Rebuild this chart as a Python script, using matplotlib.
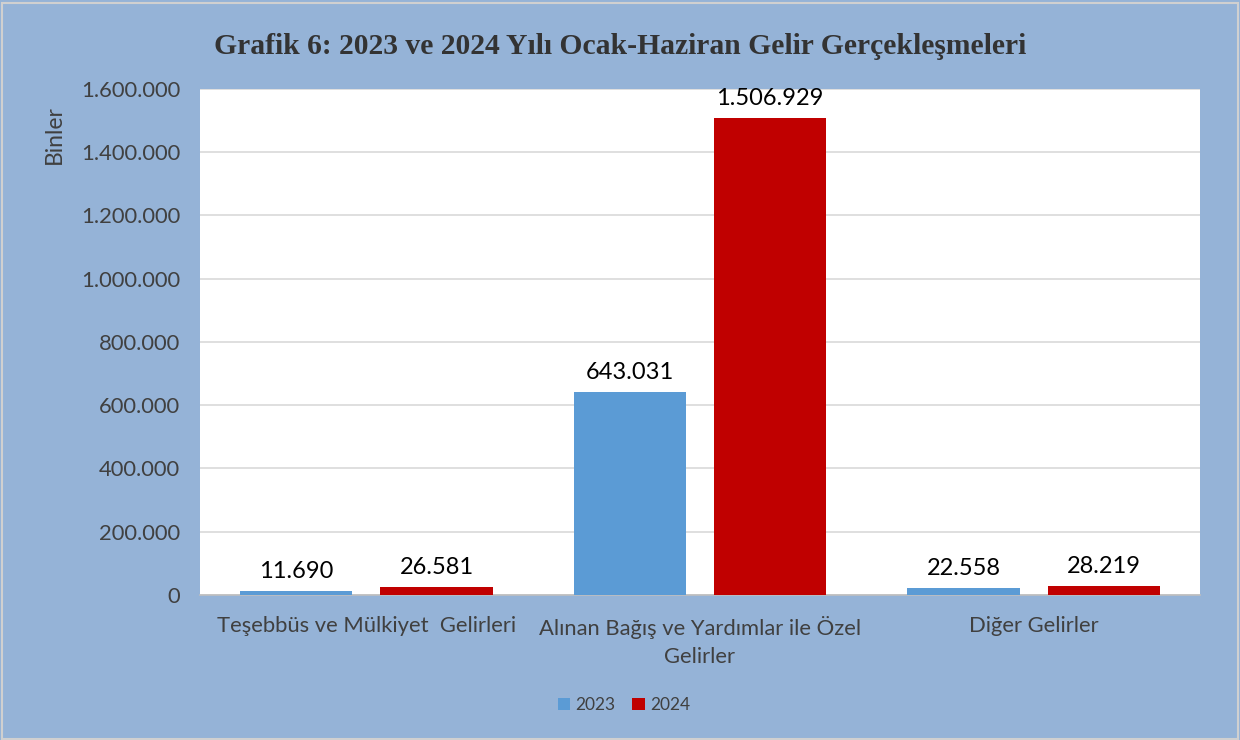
import matplotlib
matplotlib.use("Agg")
import matplotlib.pyplot as plt
from matplotlib.ticker import FuncFormatter, MultipleLocator
import numpy as np

categories = ["Teşebbüs ve Mülkiyet  Gelirleri",
              "Alınan Bağış ve Yardımlar ile Özel\nGelirler",
              "Diğer Gelirler"]
series_names = ["2023", "2024"]
values_2023 = [11690, 643031, 22558]
values_2024 = [26581, 1506929, 28219]
colors = ["#5B9BD5", "#C00000"]

BG = "#95B3D7"
TXT = "#404040"
FONT = ["Lato", "DejaVu Sans"]

def fmt(v):
    return f"{int(round(v)):,}".replace(",", ".")

fig = plt.figure(figsize=(12.4, 7.4), dpi=100, facecolor=BG)
ax = fig.add_axes([0.161, 0.196, 0.807, 0.684])
ax.set_facecolor("white")

x = np.arange(len(categories))
w = 0.336
off = 0.21
b1 = ax.bar(x - off, values_2023, w, color=colors[0], label=series_names[0], zorder=3)
b2 = ax.bar(x + off, values_2024, w, color=colors[1], label=series_names[1], zorder=3)

for bars, vals in ((b1, values_2023), (b2, values_2024)):
    for r, v in zip(bars, vals):
        ax.text(r.get_x() + r.get_width() / 2, v + 28000, fmt(v), ha="center", va="bottom",
                fontsize=17, color="black", family=FONT)

ax.set_xlim(-0.5, 2.5)
ax.set_ylim(0, 1600000)
ax.yaxis.set_major_locator(MultipleLocator(200000))
ax.yaxis.set_major_formatter(FuncFormatter(lambda v, p: fmt(v)))
ax.grid(axis="y", color="#D9D9D9", linewidth=1.2, zorder=0)
for s in ("top", "right", "left"):
    ax.spines[s].set_visible(False)
ax.spines["bottom"].set_color("#BFBFBF")
ax.spines["bottom"].set_linewidth(1.2)
ax.tick_params(axis="both", length=0, colors=TXT, labelsize=15.8)
ax.tick_params(axis="y", pad=14)
ax.tick_params(axis="x", pad=15)
ax.set_xticks(x)
ax.set_xticklabels(categories, family=FONT, fontsize=15.8, color=TXT, linespacing=1.5)
for lbl in ax.get_yticklabels():
    lbl.set_family(FONT)
ax.set_ylabel("Binler", fontsize=16.5, color=TXT, family=FONT)
ax.yaxis.set_label_coords(-0.135, 0.91)

fig.text(0.5, 0.937, "Grafik 6: 2023 ve 2024 Yılı Ocak-Haziran Gelir Gerçekleşmeleri",
         ha="center", va="center", fontsize=21.3, fontweight="bold", color="#333333",
         family=["Liberation Serif", "DejaVu Serif"])

leg = fig.legend(handles=[b1, b2], labels=series_names, loc="center", bbox_to_anchor=(0.503, 0.047),
                 ncol=2, frameon=False, handlelength=0.7, handleheight=0.7,
                 handletextpad=0.3, columnspacing=1.0, prop={"family": FONT, "size": 12.5})
for t in leg.get_texts():
    t.set_color(TXT)

fig.patches.append(plt.Rectangle((0.002, 0.002), 0.996, 0.994, transform=fig.transFigure,
                                 fill=False, edgecolor="#D0D0D0", linewidth=1.5))

fig.savefig("out.png", dpi=100, facecolor=BG)
